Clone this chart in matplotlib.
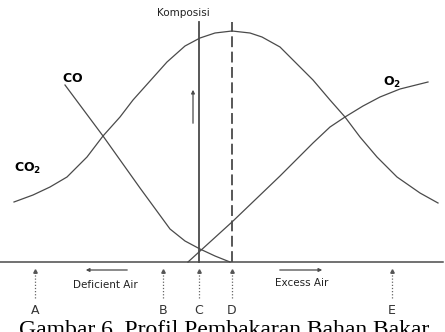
import matplotlib
matplotlib.use('Agg')
import matplotlib.pyplot as plt

# posisi horizontal (skala bebas 0-445) dan tingkat komposisi gas
co2_x = [14, 33, 50, 67, 87, 103, 120, 133, 150, 167, 185, 200, 215, 232, 250, 262, 280, 293, 313, 330, 345, 360, 377, 397, 420, 438]
co2_y = [60, 67, 75, 85, 105, 126, 145, 162, 181, 200, 216, 224, 229, 231, 229, 225, 215, 202, 182, 162, 145, 125, 105, 85, 69, 59]

co_x = [65, 103, 140, 170, 185, 200, 215, 230]
co_y = [177, 126, 74, 33, 21, 13, 6, 0]

o2_x = [188, 232, 280, 313, 330, 345, 363, 380, 400, 428]
o2_y = [0, 40, 86, 119, 135, 145, 156, 165, 173, 180]

titik_label = ['A', 'B', 'C', 'D', 'E']
titik_x = [35, 163, 199, 232, 392]

garis = '#4a4a4a'

fig = plt.figure(figsize=(4.45, 3.32), dpi=100)
ax = fig.add_axes([0, 0, 1, 1])
ax.set_xlim(0, 445)
ax.set_ylim(-70, 262)
ax.axis('off')

# kurva gas
ax.plot(co2_x, co2_y, color=garis, lw=0.9, solid_joinstyle='round')
ax.plot(co_x, co_y, color=garis, lw=0.9, solid_joinstyle='round')
ax.plot(o2_x, o2_y, color=garis, lw=0.9, solid_joinstyle='round')

# sumbu dasar
ax.plot([0, 443], [0, 0], color=garis, lw=1.1)

# garis C (stoikiometri) dan D
ax.plot([titik_x[2], titik_x[2]], [0, 240], color=garis, lw=1.3)
ax.plot([titik_x[3], titik_x[3]], [0, 240], color=garis, lw=1.3, dashes=(6, 2.5))

# panah komposisi
ax.annotate('', xy=(193, 175), xytext=(193, 136),
            arrowprops=dict(arrowstyle='-|>', color=garis, lw=0.9, mutation_scale=5))
ax.text(183, 249, 'Komposisi', ha='center', va='center', fontsize=7.5, color='#222')

# label gas
ax.text(62, 184, r'$\mathbf{CO}$', ha='left', va='center', fontsize=9)
ax.text(14, 94, r'$\mathbf{CO_2}$', ha='left', va='center', fontsize=9)
ax.text(383, 180, r'$\mathbf{O_2}$', ha='left', va='center', fontsize=9)

# panah titik di bawah sumbu
for lbl, x in zip(titik_label, titik_x):
    ax.plot([x, x], [-36, -10], color='#666', lw=0.9, ls=(0, (1, 1.5)))
    ax.plot([x], [-9], marker='^', ms=2.5, color='#555', mec='#555')
    ax.text(x, -48, lbl, ha='center', va='center', fontsize=9, color='#333')

# udara kurang / lebih
ax.annotate('', xy=(83, -8), xytext=(130, -8),
            arrowprops=dict(arrowstyle='-|>', color=garis, lw=0.9, mutation_scale=5))
ax.text(105, -23, 'Deficient Air', ha='center', va='center', fontsize=7.5, color='#222')
ax.annotate('', xy=(325, -8), xytext=(277, -8),
            arrowprops=dict(arrowstyle='-|>', color=garis, lw=0.9, mutation_scale=5))
ax.text(302, -21, 'Excess Air', ha='center', va='center', fontsize=7.5, color='#222')

# keterangan gambar (terpotong di tepi bawah, seperti pada sumbernya)
fig.text(19 / 445, 1 - 320 / 332, 'Gambar 6. Profil Pembakaran Bahan Bakar',
         ha='left', va='top', fontsize=17, family='Liberation Serif')

plt.savefig('out.png', dpi=100)
plt.close(fig)
